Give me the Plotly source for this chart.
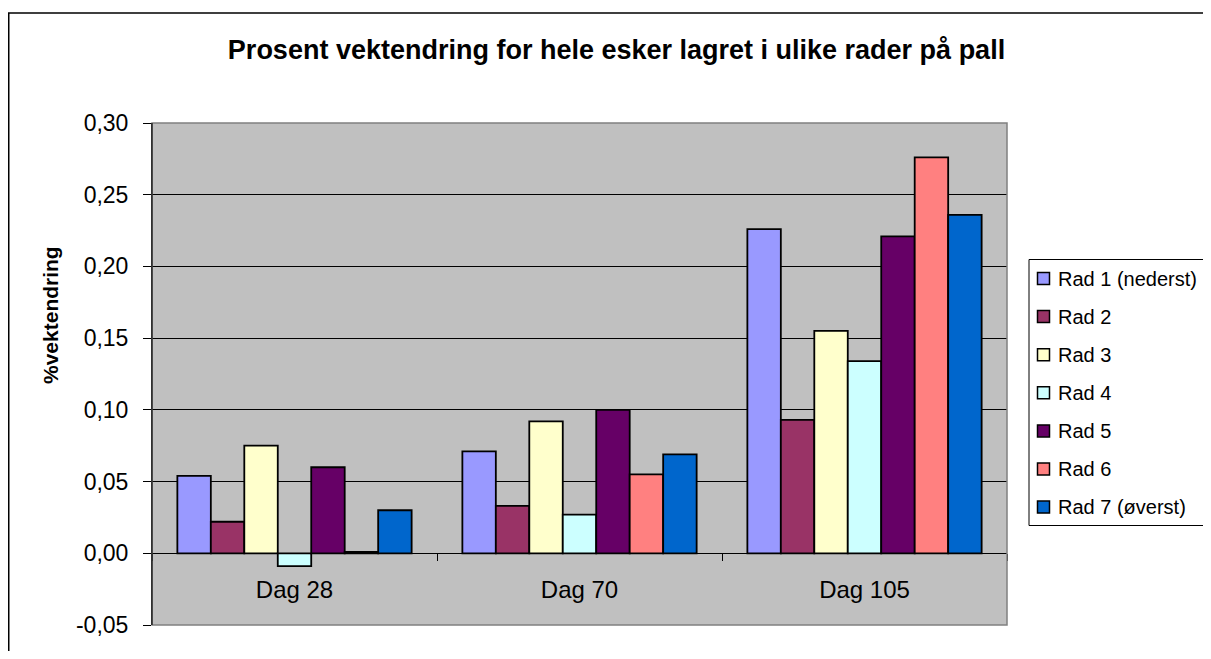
import plotly.graph_objects as go

categories = ["Dag 28", "Dag 70", "Dag 105"]
series_names = ["Rad 1 (nederst)", "Rad 2", "Rad 3", "Rad 4", "Rad 5", "Rad 6", "Rad 7 (øverst)"]
rad1 = [0.054, 0.071, 0.226]
rad2 = [0.022, 0.033, 0.093]
rad3 = [0.075, 0.092, 0.155]
rad4 = [-0.009, 0.027, 0.134]
rad5 = [0.060, 0.100, 0.221]
rad6 = [0.001, 0.055, 0.276]
rad7 = [0.030, 0.069, 0.236]
colors = ["#9999FF", "#993366", "#FFFFCC", "#CCFFFF", "#660066", "#FF8080", "#0066CC"]

y_tickvals = [-0.05, 0.0, 0.05, 0.10, 0.15, 0.20, 0.25, 0.30]
y_ticktext = ["-0,05", "0,00", "0,05", "0,10", "0,15", "0,20", "0,25", "0,30"]

series_values = [rad1, rad2, rad3, rad4, rad5, rad6, rad7]

fig = go.Figure()
for i, (name, vals) in enumerate(zip(series_names, series_values)):
    fig.add_trace(go.Bar(
        x=categories, y=vals, name=name,
        marker=dict(color=colors[i], line=dict(color="black", width=1.8)),
    ))

# page has an 8px body margin, so figure coords = page coords - 8
# (kept small enough that the page does not get scrollbars)
W, H = 1195, 643
L, T = 144, 115
PW, PH = 855, 502
R, B = W - L - PW, H - T - PH


def px(x):
    return (x - L) / PW


def py(y):
    return (T + PH - y) / PH


fig.update_layout(
    width=W, height=H,
    margin=dict(l=L, r=R, t=T, b=B),
    paper_bgcolor="white",
    plot_bgcolor="#C0C0C0",
    barmode="group",
    bargap=0.178,
    bargroupgap=0,
    showlegend=False,
    font=dict(family="Liberation Sans, Arial, sans-serif", color="black"),
    title=dict(
        text="<b>Prosent vektendring for hele esker lagret i ulike rader på pall</b>",
        font=dict(size=27), x=608.5 / W, xanchor="center", y=1 - 42 / H, yanchor="middle",
    ),
)

fig.update_yaxes(
    range=[-0.05, 0.30], tickvals=y_tickvals, ticktext=y_ticktext,
    showgrid=True, gridcolor="black", gridwidth=1,
    zeroline=True, zerolinecolor="black", zerolinewidth=1,
    showline=True, linecolor="black", linewidth=1,
    ticks="outside", ticklen=8, tickcolor="black",
    tickfont=dict(size=23), ticklabelstandoff=10,
)

fig.update_xaxes(
    anchor="free", position=0.05 / 0.35,
    showline=True, linecolor="black", linewidth=1,
    ticks="outside", tickson="boundaries", ticklen=7, tickcolor="black",
    tickfont=dict(size=24), ticklabelstandoff=15,
    showgrid=False,
)

# plot area border (gray) with black value axis on the left
fig.add_shape(type="rect", xref="paper", yref="paper", x0=0, x1=1, y0=0, y1=1,
              line=dict(color="#808080", width=1.5), layer="above")
fig.add_shape(type="line", xref="paper", yref="paper", x0=0, x1=0, y0=0, y1=1,
              line=dict(color="black", width=1), layer="above")

# outer chart frame
fig.add_shape(type="rect", xref="paper", yref="paper",
              x0=px(0.75), x1=px(1215), y0=py(670), y1=py(5),
              line=dict(color="black", width=1.5))

# legend box drawn by hand so it can run off the right edge like the original
fig.add_shape(type="rect", xref="paper", yref="paper",
              x0=px(1021), x1=px(1215), y0=py(517.5), y1=py(251.5),
              line=dict(color="black", width=1), fillcolor="white", layer="above")
for i, name in enumerate(series_names):
    cy = 270.5 + 38.1 * i
    fig.add_shape(type="rect", xref="paper", yref="paper",
                  x0=px(1029.5), x1=px(1041.5), y0=py(cy + 6), y1=py(cy - 6),
                  line=dict(color="black", width=1.5), fillcolor=colors[i], layer="above")
    fig.add_annotation(text=name, showarrow=False, xref="paper", yref="paper",
                       x=px(1048), y=py(cy), xanchor="left", yanchor="middle",
                       font=dict(size=20))

fig.add_annotation(
    text="<b>%vektendring</b>", textangle=-90, showarrow=False,
    xref="paper", yref="paper", x=px(42), y=py(307),
    xanchor="center", yanchor="middle", font=dict(size=21),
)

fig.write_html("out.html")
